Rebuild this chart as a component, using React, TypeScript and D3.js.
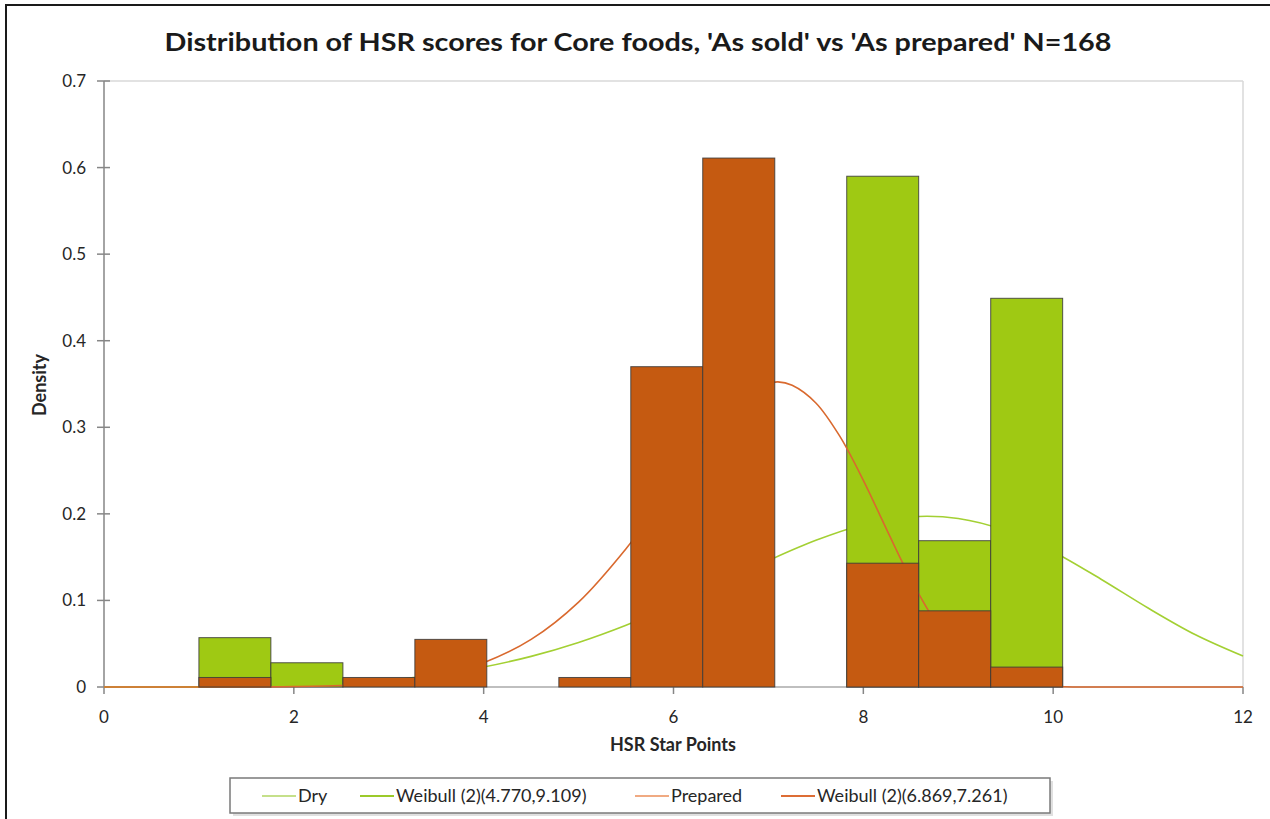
import React from 'react';
import * as d3 from 'd3';

const binEdges = [1, 1.758, 2.517, 3.275, 4.033, 4.792, 5.55, 6.308, 7.067, 7.825, 8.583, 9.342, 10.1];
const dryDensity = [0.057, 0.028, 0, 0, 0, 0, 0, 0, 0, 0.590, 0.169, 0.449];
const preparedDensity = [0.011, 0, 0.011, 0.055, 0, 0.011, 0.370, 0.611, 0, 0.143, 0.088, 0.023];

const dryFitX = [0, 0.5, 1, 1.5, 2, 2.5, 3, 3.5, 4, 4.5, 5, 5.5, 6, 6.5, 7, 7.5, 8, 8.5, 9, 9.5, 10, 10.5, 11, 11.5, 12];
const dryFitY = [0, 0, 0.0001, 0.0006, 0.0017, 0.004, 0.0079, 0.0141, 0.0231, 0.0354, 0.0515, 0.0714, 0.0947, 0.1202, 0.146, 0.1694, 0.1874, 0.1966, 0.1947, 0.1808, 0.1563, 0.1248, 0.0912, 0.0603, 0.0357];

const prepFitX = [0, 0.5, 1, 1.5, 2, 2.5, 3, 3.5, 4, 4.5, 5, 5.5, 5.75, 6, 6.25, 6.5, 6.75, 7, 7.1, 7.25, 7.5, 7.75, 8, 8.25, 8.5, 8.75, 9, 9.25, 9.5, 10, 10.5, 11, 11.5, 12];
const prepFitY = [0, 0, 0, 0.0001, 0.0005, 0.0018, 0.0053, 0.013, 0.0281, 0.055, 0.0981, 0.1598, 0.1967, 0.2358, 0.2746, 0.3095, 0.3364, 0.3506, 0.3525, 0.3485, 0.3281, 0.29, 0.2387, 0.1809, 0.1247, 0.0772, 0.0422, 0.0201, 0.0081, 0.0008, 0, 0, 0, 0];

const xTicks = [0, 2, 4, 6, 8, 10, 12];
const yTicks = [0, 0.1, 0.2, 0.3, 0.4, 0.5, 0.6, 0.7];

const titleText = "Distribution of HSR scores for Core foods, 'As sold' vs 'As prepared' N=168";
const xLabel = 'HSR Star Points';
const yLabel = 'Density';
const legendLabels = ['Dry', 'Weibull (2)(4.770,9.109)', 'Prepared', 'Weibull (2)(6.869,7.261)'];
const legendColors = ['#c5e08a', '#9cca2a', '#f0aa82', '#dd6d35'];
const legendX = [262, 360, 635, 781];

const W = 1270;
const H = 819;
const L = 104, R = 1243, T = 81, B = 687;

const FONT = 'Lato, "Open Sans", "Noto Sans", sans-serif';

export default function App() {
  const x = d3.scaleLinear().domain([0, 12]).range([L, R]);
  const y = d3.scaleLinear().domain([0, 0.7]).range([B, T]);

  const line = d3
    .line<[number, number]>()
    .x((d) => x(d[0]))
    .y((d) => Math.min(y(d[1]), B))
    .curve(d3.curveCatmullRom.alpha(0.5));

  const dryPts: [number, number][] = dryFitX.map((v, i) => [v, dryFitY[i]]);
  const prepPts: [number, number][] = prepFitX.map((v, i) => [v, prepFitY[i]]);

  const bars = (vals: number[], fill: string, key: string) =>
    vals.map((v, i) =>
      v > 0 ? (
        <rect
          key={key + i}
          x={x(binEdges[i])}
          y={y(v)}
          width={x(binEdges[i + 1]) - x(binEdges[i])}
          height={y(0) - y(v)}
          fill={fill}
          stroke="#3a3a3a"
          strokeOpacity={0.85}
          strokeWidth={1}
        />
      ) : null
    );

  return (
    <div style={{ position: 'absolute', left: 0, top: 0, width: W, height: H, background: '#fff' }}>
      <svg width={W} height={H} style={{ display: 'block' }} fontFamily={FONT}>
        <rect x={0} y={0} width={W} height={H} fill="#fff" />
        {/* outer chart border */}
        <rect x={6} y={5} width={W + 20} height={H + 20} fill="none" stroke="#1a1a1a" strokeWidth={2} />

        <text
          x={638}
          y={51}
          textAnchor="middle"
          fontSize={24}
          fontWeight="bold"
          fill="#1a1a1a"
          textLength={947}
          lengthAdjust="spacingAndGlyphs"
        >
          {titleText}
        </text>

        {/* plot area border */}
        <line x1={L} y1={T} x2={R} y2={T} stroke="#d9d9d9" strokeWidth={1.5} />
        <line x1={R} y1={T} x2={R} y2={B} stroke="#d9d9d9" strokeWidth={1.5} />

        {/* axes */}
        <line x1={L} y1={T} x2={L} y2={B} stroke="#868686" strokeWidth={1.5} />
        <line x1={L} y1={B} x2={R} y2={B} stroke="#bfbfbf" strokeWidth={2} />
        {yTicks.map((t) => (
          <g key={'yt' + t}>
            <line x1={L - 7} x2={L + 6} y1={y(t)} y2={y(t)} stroke="#868686" strokeWidth={1.5} />
            <text x={L - 18} y={y(t) + 6} textAnchor="end" fontSize={17} fill="#262626">
              {t === 0 ? '0' : t.toFixed(1)}
            </text>
          </g>
        ))}
        {xTicks.map((t) => (
          <g key={'xt' + t}>
            <line x1={x(t)} x2={x(t)} y1={B} y2={B + 7} stroke="#868686" strokeWidth={1.5} />
            <text x={x(t)} y={B + 36} textAnchor="middle" fontSize={17} fill="#262626">
              {t}
            </text>
          </g>
        ))}

        <text x={673} y={751} textAnchor="middle" fontSize={18} fontWeight="bold" fill="#262626">
          {xLabel}
        </text>
        <text
          transform={`translate(46,385) rotate(-90)`}
          textAnchor="middle"
          fontSize={18}
          fontWeight="bold"
          fill="#262626"
        >
          {yLabel}
        </text>

        {/* Dry fit curve, then Dry bars, then Prepared fit curve, then Prepared bars */}
        <path d={line(dryPts) || ''} fill="none" stroke="#a3d033" strokeWidth={1.6} />
        {bars(dryDensity, '#9fc913', 'd')}
        <path d={line(prepPts) || ''} fill="none" stroke="#d9692e" strokeWidth={1.6} />
        {bars(preparedDensity, '#c55a11', 'p')}

        {/* legend */}
        <rect x={231} y={779} width={820} height={35} fill="#000" opacity={0.12} transform="translate(2,2)" />
        <rect x={230} y={778} width={820} height={35} fill="#fff" stroke="#7a7a7a" strokeWidth={1.5} />
        {legendLabels.map((lab, i) => (
          <g key={'lg' + i}>
            <line
              x1={legendX[i]}
              x2={legendX[i] + 34}
              y1={796}
              y2={796}
              stroke={legendColors[i]}
              strokeWidth={2}
            />
            <text x={legendX[i] + 36} y={802} fontSize={18} fill="#262626">
              {lab}
            </text>
          </g>
        ))}
      </svg>
    </div>
  );
}
